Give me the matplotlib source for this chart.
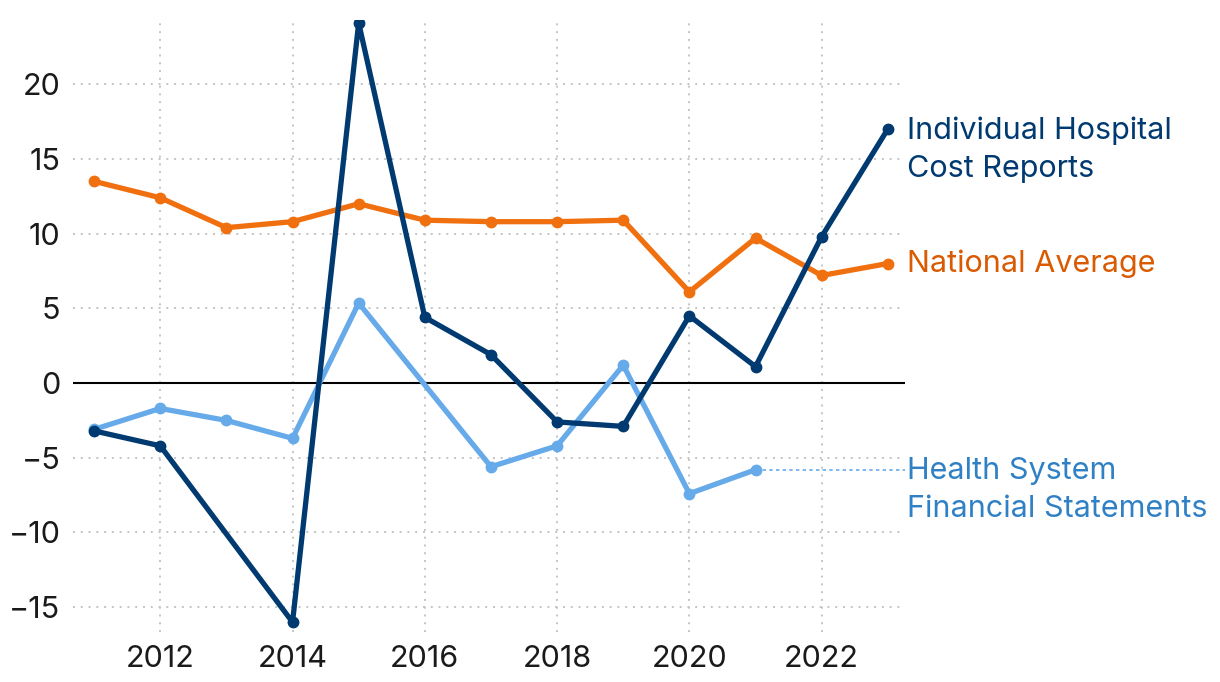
import numpy as np
import matplotlib
matplotlib.use("Agg")
import matplotlib.pyplot as plt

plt.rcParams['font.family'] = ['Inter', 'DejaVu Sans']

# data (percent)
hosp_years = [2011, 2012, 2014, 2015, 2016, 2017, 2018, 2019, 2020, 2021, 2022, 2023]
hosp_vals = [-3.2, -4.2, -16.0, 24.1, 4.4, 1.9, -2.6, -2.9, 4.5, 1.1, 9.8, 17.0]

nat_years = [2011, 2012, 2013, 2014, 2015, 2016, 2017, 2018, 2019, 2020, 2021, 2022, 2023]
nat_vals = [13.5, 12.4, 10.4, 10.8, 12.0, 10.9, 10.8, 10.8, 10.9, 6.1, 9.7, 7.2, 8.0]

sys_years = [2011, 2012, 2013, 2014, 2015, 2017, 2018, 2019, 2020, 2021]
sys_vals = [-3.1, -1.7, -2.5, -3.7, 5.35, -5.6, -4.2, 1.2, -7.4, -5.8]

navy = '#003a70'
orange = '#f07010'
light = '#66aaea'

fig = plt.figure(figsize=(12.2, 6.82), dpi=100)
ax = fig.add_axes([0.0598, 0.0733, 0.682, 0.897])

ax.set_xlim(2010.68, 2023.26)
ax.set_ylim(-16.66, 24.28)

ax.grid(True, linestyle=(0, (1, 3)), color='#c4c4c4', linewidth=1.4)
ax.set_axisbelow(True)
for s in ax.spines.values():
    s.set_visible(False)

ax.axhline(0, color='black', linewidth=1.5, zorder=1)

kw = dict(linewidth=3.8, marker='o', markersize=7.5, solid_joinstyle='round', zorder=3)
ax.plot(sys_years, sys_vals, color=light, **kw)
ax.plot(nat_years, nat_vals, color=orange, **kw)
ax.plot(hosp_years, hosp_vals, color=navy, **kw)

# dotted leader from last light-blue point to its label
ax.plot([sys_years[-1], ax.get_xlim()[1]], [sys_vals[-1]] * 2, color=light,
        linestyle=(0, (2, 2)), linewidth=1.2, clip_on=False, zorder=2)

ax.set_xticks([2012, 2014, 2016, 2018, 2020, 2022])
ax.set_yticks([-15, -10, -5, 0, 5, 10, 15, 20])
ax.set_yticklabels(['\u221215', '\u221210', '\u22125', '0', '5', '10', '15', '20'])
ax.tick_params(axis='both', length=0, labelsize=22, labelcolor='#1a1a1a')
ax.tick_params(axis='x', pad=9)
ax.tick_params(axis='y', pad=9)

fs = 22
ax.annotate('Individual Hospital\nCost Reports', (hosp_years[-1], hosp_vals[-1]),
            xytext=(14, 9), textcoords='offset points', color=navy,
            fontsize=fs, va='top', ha='left', linespacing=1.45, annotation_clip=False)
ax.annotate('National Average', (nat_years[-1], nat_vals[-1]),
            xytext=(14, 0), textcoords='offset points', color='#d95a00',
            fontsize=fs, va='center', ha='left', annotation_clip=False)
ax.annotate('Health System\nFinancial Statements', (2023, sys_vals[-1]),
            xytext=(14, 9), textcoords='offset points', color='#2f80c4',
            fontsize=fs, va='top', ha='left', linespacing=1.45, annotation_clip=False)

fig.savefig('out.png', dpi=100)
